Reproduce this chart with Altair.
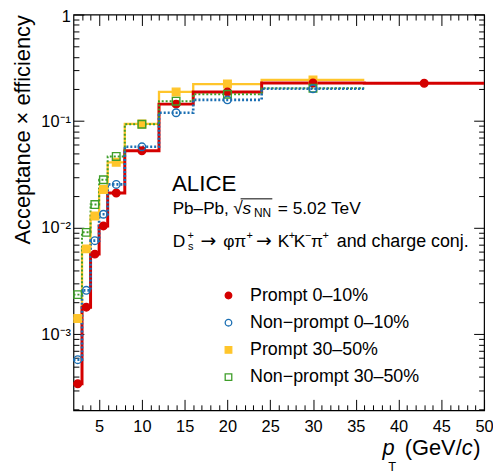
import altair as alt
import pandas as pd

# ------------------------------------------------------------------ data
series_names = ["Prompt 0–10%", "Non−prompt 0–10%", "Prompt 30–50%", "Non−prompt 30–50%"]

edges_prompt_0_10 = [2, 3, 4, 5, 6, 8, 12, 16, 24, 36, 50]
edges_nonprompt_0_10 = [2, 3, 4, 5, 6, 8, 12, 16, 24, 36]
edges_prompt_30_50 = [2, 3, 4, 5, 6, 8, 12, 16, 24, 36]
edges_nonprompt_30_50 = [2, 3, 4, 5, 6, 8, 12, 16, 24, 36]

centres_prompt_0_10 = [2.5, 3.5, 4.5, 5.5, 7, 10, 14, 20, 30, 43]
centres_nonprompt_0_10 = [2.5, 3.5, 4.5, 5.5, 7, 10, 14, 20, 30]
centres_prompt_30_50 = [2.5, 3.5, 4.5, 5.5, 7, 10, 14, 20, 30]
centres_nonprompt_30_50 = [2.5, 3.5, 4.5, 5.5, 7, 10, 14, 20, 30]

eff_prompt_0_10 = [3.44e-4, 1.80e-3, 5.66e-3, 1.04e-2, 2.12e-2, 5.28e-2, 0.1445, 0.188, 0.228, 0.227]
eff_nonprompt_0_10 = [5.79e-4, 2.59e-3, 7.57e-3, 1.34e-2, 2.55e-2, 5.75e-2, 0.120, 0.1585, 0.2015]
eff_prompt_30_50 = [1.41e-3, 6.34e-3, 1.29e-2, 2.29e-2, 4.11e-2, 0.0942, 0.188, 0.223, 0.244]
eff_nonprompt_30_50 = [2.36e-3, 9.06e-3, 1.65e-2, 2.82e-2, 4.67e-2, 0.0936, 0.154, 0.179, 0.204]

x_major_ticks = [5, 10, 15, 20, 25, 30, 35, 40, 45, 50]
x_minor_ticks = [v for v in range(3, 50) if v % 5 != 0]
y_major_ticks = [1e-3, 1e-2, 1e-1, 1.0]
y_minor_ticks = [k * 10.0 ** e for e in (-4, -3, -2, -1) for k in range(2, 10) if k * 10.0 ** e >= 1.94e-4]

# ------------------------------------------------------------------ styles
series_colors = ["#d40000", "#1b6fb3", "#ffc52b", "#3f9e2a"]
series_fills = ["#d40000", "transparent", "#ffc52b", "transparent"]
series_shapes = ["circle", "circle", "square", "square"]
series_dash = [[1, 0], [2, 2], [1, 0], [2, 2]]
series_width = [3, 2, 3, 2]
FONT = "Liberation Sans"


def step_rows(name, edges, vals):
    rows = [{"series": name, "x": e, "y": v} for e, v in zip(edges[:-1], vals)]
    rows.append({"series": name, "x": edges[-1], "y": vals[-1]})
    return rows


def point_rows(name, centres, vals):
    return [{"series": name, "x": c, "y": v} for c, v in zip(centres, vals)]


prompt_lines_df = pd.DataFrame(
    step_rows(series_names[2], edges_prompt_30_50, eff_prompt_30_50)
    + step_rows(series_names[0], edges_prompt_0_10, eff_prompt_0_10)
)
nonprompt_lines_df = pd.DataFrame(
    step_rows(series_names[3], edges_nonprompt_30_50, eff_nonprompt_30_50)
    + step_rows(series_names[1], edges_nonprompt_0_10, eff_nonprompt_0_10)
)
prompt_pts_df = pd.DataFrame(
    point_rows(series_names[2], centres_prompt_30_50, eff_prompt_30_50)
    + point_rows(series_names[0], centres_prompt_0_10, eff_prompt_0_10)
)
nonprompt_pts_df = pd.DataFrame(
    point_rows(series_names[3], centres_nonprompt_30_50, eff_nonprompt_30_50)
    + point_rows(series_names[1], centres_nonprompt_0_10, eff_nonprompt_0_10)
)

xs = alt.Scale(domain=[2, 50], nice=False, zero=False)
ys = alt.Scale(type="log", domain=[1.94e-4, 1], nice=False)
# line scales list the series in reverse order so that their (hidden) legends
# are not merged with the marker legend
rev = slice(None, None, -1)
line_color_scale = alt.Scale(domain=series_names[rev], range=series_colors[rev])
dash_scale = alt.Scale(domain=series_names[rev], range=series_dash[rev])
width_scale = alt.Scale(domain=series_names[rev], range=series_width[rev])
stroke_scale = alt.Scale(domain=series_names, range=series_colors)
fill_scale = alt.Scale(domain=series_names, range=series_fills)
shape_scale = alt.Scale(domain=series_names, range=series_shapes)

common_axis = dict(domain=False, grid=False, tickColor="black", tickWidth=1,
                   labelColor="black", labelFont=FONT, titleColor="black")


def tick_axis(orient, values, size, labels=False, **kw):
    args = dict(common_axis)
    args.update(dict(orient=orient, values=values, tickSize=size, offset=-size,
                     labels=labels, title=None))
    args.update(kw)
    return alt.Axis(**args)


ax_bottom_major = tick_axis("bottom", x_major_ticks, 11, labels=True, labelFontSize=16.5,
                            labelPadding=8.5, labelFlush=False, labelOverlap=False)
ax_bottom_minor = tick_axis("bottom", x_minor_ticks, 5.5)
ax_top_major = tick_axis("top", x_major_ticks, 11)
ax_top_minor = tick_axis("top", x_minor_ticks, 5.5)

ax_left_major = alt.Axis(
    **common_axis, orient="left", values=y_major_ticks, tickSize=10.5, offset=-10.5,
    labels=True, labelFontSize=16.5, labelPadding=3, labelOverlap=False, labelFlush=False,
    labelOffset={"condition": {"test": "datum.value > 0.5", "value": 1.5}, "value": 0},
    labelExpr="datum.value > 0.5 ? '1' : datum.value > 0.05 ? '10⁻¹' : datum.value > 0.005 ? '10⁻²' : '10⁻³'",
    title="Acceptance × efficiency", titleFont=FONT, titleFontSize=22, titleFontWeight="normal",
    titleAngle=270, titleAlign="right", titleBaseline="alphabetic", titleX=-54.5, titleY=0,
)
ax_left_minor = tick_axis("left", y_minor_ticks, 5.5)
ax_right_major = tick_axis("right", y_major_ticks, 10.5)
ax_right_minor = tick_axis("right", y_minor_ticks, 5.5)

legend_def = alt.Legend(
    orient="none", legendX=147.3, legendY=274.3, title=None, labelFont=FONT,
    labelFontSize=18, labelColor="black", labelLimit=400, symbolSize=44, symbolStrokeWidth=1.3,
    rowPadding=9.4, labelOffset=12.7, padding=0,
)


def lines_layer(df, xaxis, yaxis):
    return alt.Chart(df).mark_line(interpolate="step-after").encode(
        x=alt.X("x:Q", scale=xs, axis=xaxis),
        y=alt.Y("y:Q", scale=ys, axis=yaxis),
        color=alt.Color("series:N", scale=line_color_scale, legend=None),
        strokeDash=alt.StrokeDash("series:N", scale=dash_scale, legend=None),
        strokeWidth=alt.StrokeWidth("series:N", scale=width_scale, legend=None),
    )


def points_layer(df, xaxis, yaxis):
    return alt.Chart(df).mark_point(filled=True, opacity=1, size=58, strokeWidth=1.4).encode(
        x=alt.X("x:Q", scale=xs, axis=xaxis),
        y=alt.Y("y:Q", scale=ys, axis=yaxis),
        stroke=alt.Stroke("series:N", scale=stroke_scale, legend=legend_def),
        fill=alt.Fill("series:N", scale=fill_scale, legend=legend_def),
        shape=alt.Shape("series:N", scale=shape_scale, legend=legend_def),
    )


OX, OY = 74.0, 12.7


def txt(s, px, py, size=17.5, italic=False, align="left", font=FONT):
    return alt.Chart(alt.Data(values=[{}])).mark_text(
        text=s, font=font, fontSize=size, fontStyle="italic" if italic else "normal",
        align=align, baseline="alphabetic", color="black",
    ).encode(x=alt.value(px - OX), y=alt.value(py - OY))


annotations = [
    txt("ALICE", 173.3, 190.7, size=22.5),
    # line 2
    txt("Pb–Pb,", 174, 213.3, size=17.3),
    txt("√", 235, 213.3),
    txt("s", 244.5, 213.3, italic=True),
    txt("NN", 256, 217, size=12),
    txt("=", 280, 213.3),
    txt("5.02 TeV", 295, 213.3),
    # line 3
    txt("D", 174, 246.7),
    txt("+", 189, 238.5, size=11),
    txt("s", 189.5, 250, size=11),
    txt("→", 202, 246.7, size=19, font="DejaVu Sans"),
    txt("φπ", 225, 246.7),
    txt("+", 248.5, 238.5, size=11),
    txt("→", 258, 246.7, size=19, font="DejaVu Sans"),
    txt("K", 280, 246.7),
    txt("+", 291, 238.5, size=11),
    txt("K", 296, 246.7),
    txt("−", 307.5, 238.5, size=11),
    txt("π", 313.5, 246.7),
    txt("+", 325, 238.5, size=11),
    txt("and charge conj.", 472.5, 246.7, size=18, align="right"),
    # x-axis title
    txt("p", 385.5, 456.5, size=22, italic=True),
    txt("T", 391.5, 472.5, size=13),
    txt("(GeV/", 408, 456.5, size=22),
    txt("c", 465.5, 456.5, size=22, italic=True),
    txt(")", 477, 456.5, size=22),
]

overline = alt.Chart(alt.Data(values=[{}])).mark_rule(color="black", strokeWidth=1).encode(
    x=alt.value(242.5 - OX), x2=alt.value(274.5 - OX), y=alt.value(198.5 - OY)
)

layers = [
    lines_layer(prompt_lines_df, ax_bottom_major, ax_left_major),
    lines_layer(nonprompt_lines_df, ax_bottom_minor, ax_left_minor),
    points_layer(prompt_pts_df, ax_top_major, ax_right_major),
    points_layer(nonprompt_pts_df, ax_top_minor, ax_right_minor),
    overline,
] + annotations

chart = (
    alt.layer(*layers)
    .resolve_axis(x="independent", y="independent")
    .properties(
        width=414, height=399,
        autosize=alt.AutoSizeParams(type="none"),
        padding={"left": 66, "top": 4.7, "right": 9, "bottom": 62.3},
        background="white",
    )
    .configure_view(stroke="black", strokeWidth=1.2)
)

chart.save("out.html", embed_options={"renderer": "svg", "actions": False})
